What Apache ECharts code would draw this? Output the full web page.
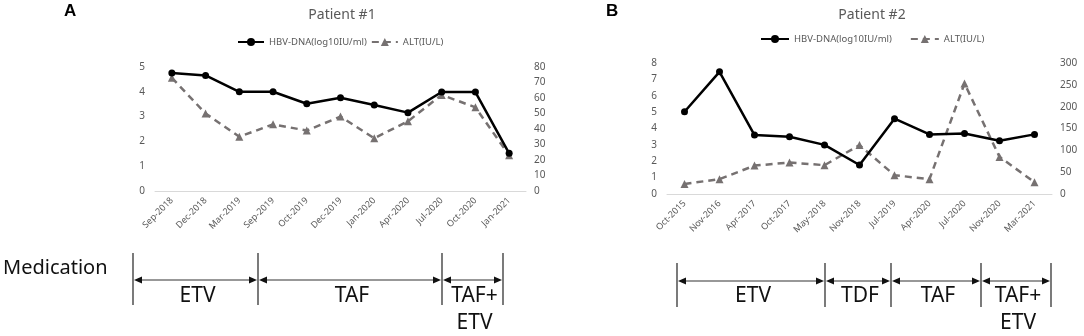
<!DOCTYPE html>
<html>
<head>
<meta charset="utf-8">
<script src="https://cdn.jsdelivr.net/npm/echarts@6/dist/echarts.min.js"></script>
<style>
  html, body { margin: 0; padding: 0; background: #fff; }
  #chart { width: 1084px; height: 336px; }
</style>
</head>
<body>
<div id="chart"></div>
<script>
// patient #1
var datesA = ['Sep-2018','Dec-2018','Mar-2019','Sep-2019','Oct-2019','Dec-2019','Jan-2020','Apr-2020','Jul-2020','Oct-2020','Jan-2021'];
var hbvA = [4.76, 4.66, 4.0, 4.0, 3.52, 3.76, 3.47, 3.16, 3.99, 3.99, 1.52];
var altA = [73, 50, 35, 43, 39, 48, 34, 45, 62, 54, 23];
// patient #2
var datesB = ['Oct-2015','Nov-2016','Apr-2017','Oct-2017','May-2018','Nov-2018','Jul-2019','Apr-2020','Jul-2020','Nov-2020','Mar-2021'];
var hbvB = [5.02, 7.46, 3.6, 3.5, 3.0, 1.77, 4.6, 3.64, 3.7, 3.25, 3.64];
var altB = [23, 34, 65, 72, 66, 112, 43, 34, 253, 85, 27];
// medication periods
var medA = ['ETV', 'TAF', 'TAF+\nETV'];
var medB = ['ETV', 'TDF', 'TAF', 'TAF+\nETV'];

var legendHbv = 'HBV-DNA(log10IU/ml)';
var legendAlt = 'ALT(IU/L)';

var grey = '#595959';
var font = 'Noto Sans';

var myChart = echarts.init(document.getElementById('chart'));

function makeAxes(idx, cats, lmax, lint, rmax, rint) {
	return {
		x: {
			type: 'category',
			gridIndex: idx,
			data: cats,
			boundaryGap: true,
			axisLine: { lineStyle: { color: '#d9d9d9', width: 1 } },
			axisTick: { show: false },
			axisLabel: { rotate: 45, color: grey, fontSize: 9, fontFamily: font, margin: 8, interval: 0 }
		},
		y: [{
			type: 'value', gridIndex: idx, min: 0, max: lmax, interval: lint,
			axisLine: { show: false }, axisTick: { show: false }, splitLine: { show: false },
			axisLabel: { color: grey, fontSize: 10, fontFamily: font, margin: 10 }
		}, {
			type: 'value', gridIndex: idx, min: 0, max: rmax, interval: rint, position: 'right',
			axisLine: { show: false }, axisTick: { show: false }, splitLine: { show: false },
			axisLabel: { color: grey, fontSize: 10, fontFamily: font, margin: 8 }
		}]
	};
}

var axA = makeAxes(0, datesA, 5, 1, 80, 10);
var axB = makeAxes(1, datesB, 8, 1, 300, 50);

function hbvSeries(xi, yi, data) {
	return {
		name: legendHbv, type: 'line', xAxisIndex: xi, yAxisIndex: yi,
		symbol: 'circle', symbolSize: 7, z: 3,
		lineStyle: { color: '#000', width: 2.5 },
		itemStyle: { color: '#000' },
		data: data
	};
}
function altSeries(xi, yi, data) {
	return {
		name: legendAlt, type: 'line', xAxisIndex: xi, yAxisIndex: yi,
		symbol: 'triangle', symbolSize: 8, z: 2,
		lineStyle: { color: '#767171', width: 2.5, type: [7, 5] },
		itemStyle: { color: '#767171' },
		data: data
	};
}

// medication brackets (annotation, drawn under the charts)
function bracket(bounds, top, bottom, arrowY, labels, labelY) {
	var els = [];
	bounds.forEach(function (x) {
		els.push({ type: 'line', shape: { x1: x, y1: top, x2: x, y2: bottom }, style: { stroke: '#333', lineWidth: 1.3 } });
	});
	for (var i = 0; i < bounds.length - 1; i++) {
		var a = bounds[i] + 1, b = bounds[i + 1] - 1;
		els.push({ type: 'line', shape: { x1: a + 4, y1: arrowY, x2: b - 4, y2: arrowY }, style: { stroke: '#333', lineWidth: 1.2 } });
		els.push({ type: 'polygon', shape: { points: [[a, arrowY], [a + 8, arrowY - 3.5], [a + 8, arrowY + 3.5]] }, style: { fill: '#111' } });
		els.push({ type: 'polygon', shape: { points: [[b, arrowY], [b - 8, arrowY - 3.5], [b - 8, arrowY + 3.5]] }, style: { fill: '#111' } });
		els.push({
			type: 'text', x: (bounds[i] + bounds[i + 1]) / 2 + 2, y: labelY,
			style: { text: labels[i], fill: '#111', font: '21px "Noto Sans"', align: 'center', verticalAlign: 'top', lineHeight: 27 }
		});
	}
	return els;
}

var graphics = [
	{ type: 'text', left: 64, top: 3, style: { text: 'A', fill: '#000', font: 'bold 17px "Liberation Sans"' } },
	{ type: 'text', left: 606, top: 3, style: { text: 'B', fill: '#000', font: 'bold 17px "Liberation Sans"' } },
	{ type: 'text', left: 3, top: 258, style: { text: 'Medication', fill: '#111', font: '20px "Noto Sans"' } }
];
graphics = graphics.concat(bracket([133, 258, 442, 503], 253, 305, 280, medA, 283));
graphics = graphics.concat(bracket([677, 825, 891, 981, 1051], 263, 307, 281, medB, 283));

var option = {
	animation: false,
	title: [
		{ text: 'Patient #1', left: 337, top: 3, textAlign: 'center', textStyle: { color: grey, fontSize: 14, fontWeight: 'normal', fontFamily: font } },
		{ text: 'Patient #2', left: 867, top: 3, textAlign: 'center', textStyle: { color: grey, fontSize: 14, fontWeight: 'normal', fontFamily: font } }
	],
	legend: [{
		left: 232, top: 32, itemWidth: 26, itemHeight: 10, itemGap: 4,
		textStyle: { color: grey, fontSize: 9.5, fontFamily: font },
		data: [legendHbv, legendAlt]
	}, {
		left: 755, top: 29, itemWidth: 28, itemHeight: 10, itemGap: 18,
		textStyle: { color: grey, fontSize: 9.5, fontFamily: font },
		data: [legendHbv, legendAlt]
	}],
	grid: [
		{ left: 155, right: 558, top: 67, bottom: 145 },
		{ left: 667, right: 32, top: 63, bottom: 142 }
	],
	xAxis: [axA.x, axB.x],
	yAxis: [axA.y[0], axA.y[1], axB.y[0], axB.y[1]],
	graphic: graphics,
	series: [
		hbvSeries(0, 0, hbvA),
		altSeries(0, 1, altA),
		hbvSeries(1, 2, hbvB),
		altSeries(1, 3, altB)
	]
};
myChart.setOption(option);
</script>
</body>
</html>
